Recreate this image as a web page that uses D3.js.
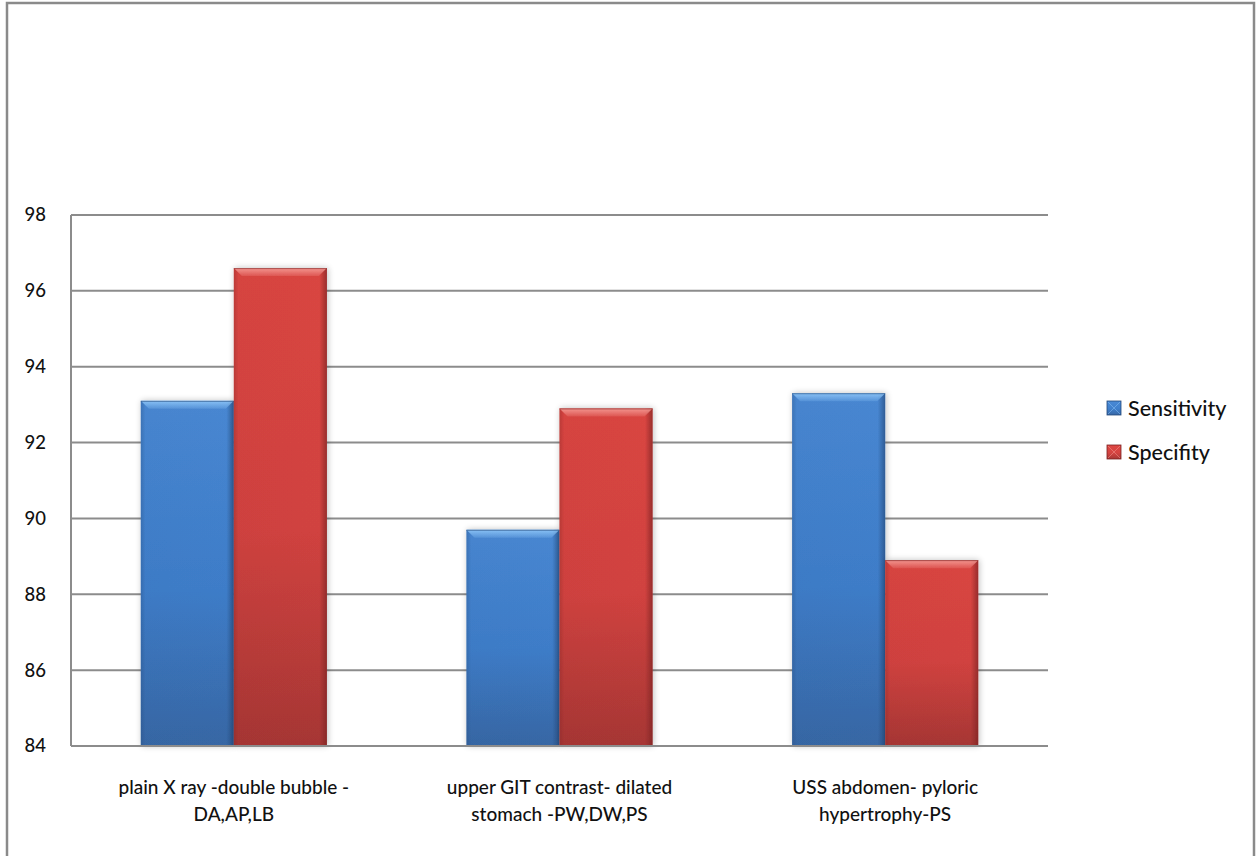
<!DOCTYPE html>
<html>
<head>
<meta charset="utf-8">
<script src="https://cdn.jsdelivr.net/npm/d3@7"></script>
<style>
  html, body { margin: 0; padding: 0; background: #fff; }
  svg { display: block; }
  text { font-family: Lato, "Open Sans", sans-serif; fill: #111; }
</style>
</head>
<body>
<svg id="chart" width="1256" height="856"></svg>
<script>
// Diagnostic accuracy of imaging findings (%)
const categories = [
  ["plain X ray -double bubble -", "DA,AP,LB"],
  ["upper GIT contrast- dilated", "stomach -PW,DW,PS"],
  ["USS abdomen- pyloric", "hypertrophy-PS"]
];
const seriesNames = ["Sensitivity", "Specifity"];
const sensitivity = [93.1, 89.7, 93.3];
const specificity = [96.6, 92.9, 88.9];
const yTicks = [84, 86, 88, 90, 92, 94, 96, 98];

const palette = {
  Sensitivity: { top: "#4a8ad6", mid: "#3f7fcc", bottom: "#3868a6", edge: "#24497a", light: "#8cc4f7" },
  Specifity:   { top: "#de4743", mid: "#d54441", bottom: "#a83735", edge: "#7a2222", light: "#f59a94" }
};

const svg = d3.select("#chart");
const margin = { left: 71, right: 1048, top: 215, bottom: 746 };

// outer frame
svg.append("rect")
  .attr("x", 7).attr("y", 3).attr("width", 1247).attr("height", 860)
  .attr("fill", "none").attr("stroke", "#8a8a8a").attr("stroke-width", 2.5);

const x0 = d3.scaleBand()
  .domain(d3.range(categories.length))
  .range([margin.left, margin.right])
  .paddingInner(1.5 / 3.5)
  .paddingOuter(0.75 / 3.5);
const x1 = d3.scaleBand()
  .domain(seriesNames)
  .range([0, x0.bandwidth()]);
const y = d3.scaleLinear()
  .domain([84, 98])
  .range([margin.bottom, margin.top]);

// gradients
const defs = svg.append("defs");
seriesNames.forEach((name, i) => {
  const c = palette[name];
  const v = defs.append("linearGradient").attr("id", "v" + i)
    .attr("x1", 0).attr("y1", 0).attr("x2", 0).attr("y2", 1);
  v.append("stop").attr("offset", "0%").attr("stop-color", c.top);
  v.append("stop").attr("offset", "55%").attr("stop-color", c.mid);
  v.append("stop").attr("offset", "100%").attr("stop-color", c.bottom);
  const h = defs.append("linearGradient").attr("id", "h" + i)
    .attr("x1", 0).attr("y1", 0).attr("x2", 1).attr("y2", 0);
  h.append("stop").attr("offset", "0%").attr("stop-color", c.edge).attr("stop-opacity", 0.35);
  h.append("stop").attr("offset", "5%").attr("stop-color", c.edge).attr("stop-opacity", 0.08);
  h.append("stop").attr("offset", "92%").attr("stop-color", c.edge).attr("stop-opacity", 0.05);
  h.append("stop").attr("offset", "97%").attr("stop-color", c.edge).attr("stop-opacity", 0.45);
  h.append("stop").attr("offset", "100%").attr("stop-color", c.edge).attr("stop-opacity", 0.7);
  const t = defs.append("linearGradient").attr("id", "t" + i)
    .attr("x1", 0).attr("y1", 0).attr("x2", 0).attr("y2", 1);
  t.append("stop").attr("offset", "0%").attr("stop-color", c.light).attr("stop-opacity", 0.95);
  t.append("stop").attr("offset", "100%").attr("stop-color", c.light).attr("stop-opacity", 0.2);
});
const shadow = defs.append("filter").attr("id", "shadow")
  .attr("x", "-20%").attr("y", "-5%").attr("width", "140%").attr("height", "110%");
shadow.append("feGaussianBlur").attr("in", "SourceAlpha").attr("stdDeviation", 3).attr("result", "b");
shadow.append("feOffset").attr("in", "b").attr("dx", 1).attr("dy", 0).attr("result", "o");
shadow.append("feComponentTransfer").attr("in", "o").attr("result", "s")
  .append("feFuncA").attr("type", "linear").attr("slope", 0.25);
const merge = shadow.append("feMerge");
merge.append("feMergeNode").attr("in", "s");
merge.append("feMergeNode").attr("in", "SourceGraphic");

// gridlines
svg.append("g").selectAll("line")
  .data(yTicks)
  .join("line")
  .attr("x1", margin.left).attr("x2", margin.right)
  .attr("y1", d => y(d)).attr("y2", d => y(d))
  .attr("stroke", "#8c8c8c").attr("stroke-width", 2);

// y axis line and labels
svg.append("line")
  .attr("x1", margin.left).attr("x2", margin.left)
  .attr("y1", margin.top).attr("y2", margin.bottom)
  .attr("stroke", "#8c8c8c").attr("stroke-width", 2);
svg.append("g").selectAll("text")
  .data(yTicks)
  .join("text")
  .attr("x", 46).attr("y", d => y(d))
  .attr("dy", "0.35em")
  .attr("text-anchor", "end")
  .attr("font-size", 18.5)
  .attr("font-weight", 500)
  .text(d => d);

// bars
const rows = categories.map((c, i) => ({ i, values: [sensitivity[i], specificity[i]] }));
const groups = svg.append("g").selectAll("g")
  .data(rows)
  .join("g")
  .attr("transform", d => `translate(${x0(d.i)},0)`);

groups.each(function(row) {
  const g = d3.select(this);
  row.values.forEach((v, si) => {
    const name = seriesNames[si];
    const bx = x1(name), bw = x1.bandwidth();
    const by = y(v), bh = y(84) - y(v);
    const bar = g.append("g").attr("filter", "url(#shadow)");
    bar.append("rect").attr("x", bx).attr("y", by).attr("width", bw).attr("height", bh)
      .attr("fill", `url(#v${si})`);
    bar.append("rect").attr("x", bx).attr("y", by).attr("width", bw).attr("height", bh)
      .attr("fill", `url(#h${si})`);
    // bevelled top edge
    const bev = 8;
    bar.append("path")
      .attr("d", `M${bx},${by} L${bx + bw},${by} L${bx + bw - bev},${by + bev} L${bx + bev},${by + bev} Z`)
      .attr("fill", `url(#t${si})`);
    bar.append("line")
      .attr("x1", bx).attr("x2", bx + bw).attr("y1", by + 0.5).attr("y2", by + 0.5)
      .attr("stroke", palette[name].edge).attr("stroke-width", 1).attr("stroke-opacity", 0.6);
  });
});

// x axis line
svg.append("line")
  .attr("x1", margin.left).attr("x2", margin.right)
  .attr("y1", margin.bottom).attr("y2", margin.bottom)
  .attr("stroke", "#8c8c8c").attr("stroke-width", 2);

// category labels
svg.append("g").selectAll("text")
  .data(categories)
  .join("text")
  .attr("text-anchor", "middle")
  .attr("font-size", 19)
  .attr("font-weight", 500)
  .attr("transform", (d, i) => `translate(${x0(i) + x0.bandwidth() / 2},${margin.bottom + 48})`)
  .each(function(lines) {
    d3.select(this).selectAll("tspan")
      .data(lines)
      .join("tspan")
      .attr("x", 0)
      .attr("dy", (d, k) => k === 0 ? 0 : 27)
      .text(d => d);
  });

// legend
const legend = svg.append("g").selectAll("g")
  .data(seriesNames)
  .join("g")
  .attr("transform", (d, i) => `translate(1107,${408 + i * 44})`);
legend.append("rect")
  .attr("x", 0).attr("y", -7).attr("width", 14).attr("height", 14)
  .attr("fill", (d, i) => `url(#v${i})`)
  .attr("stroke", d => palette[d].edge).attr("stroke-width", 0.8);
legend.append("path")
  .attr("d", "M1,-6 L13,6 M13,-6 L1,6")
  .attr("stroke", d => palette[d].light).attr("stroke-width", 1).attr("stroke-opacity", 0.5);
legend.append("text")
  .attr("x", 21).attr("y", 0).attr("dy", "0.35em")
  .attr("font-size", 21.5)
  .attr("font-weight", 500)
  .text(d => d);
</script>
</body>
</html>
